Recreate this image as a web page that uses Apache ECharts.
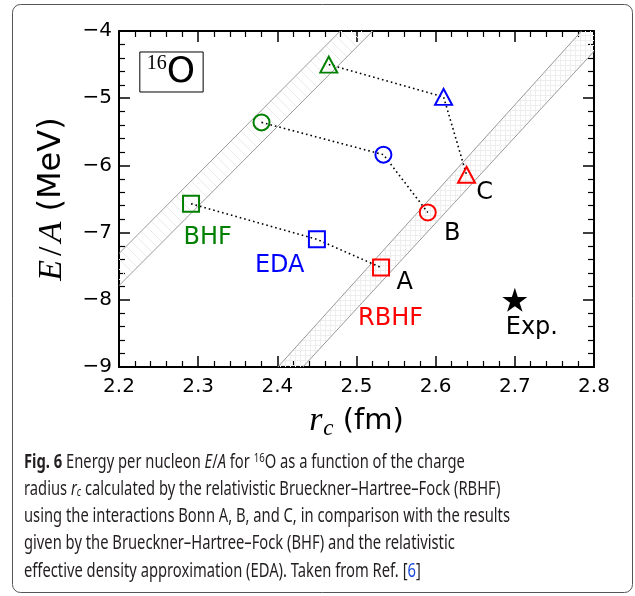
<!DOCTYPE html>
<html>
<head>
<meta charset="utf-8">
<script src="https://cdn.jsdelivr.net/npm/echarts@6/dist/echarts.min.js"></script>
<style>
  html, body { margin: 0; padding: 0; background: #fff; }
  #chart { width: 635px; height: 596px; }
</style>
</head>
<body>
<div id="chart"></div>
<script>
// points are [r_c (fm), E/A (MeV)], ordered Bonn A (square), B (circle), C (triangle)
const markerShapes = ['rect', 'circle', 'triangle'];
const bhf  = [[2.291, -6.57], [2.380, -5.36], [2.465, -4.50]];
const eda  = [[2.450, -7.10], [2.534, -5.84], [2.610, -4.98]];
const rbhf = [[2.531, -7.52], [2.590, -6.70], [2.639, -6.14]];
const expt = [[2.700, -8.00]];

// the two shaded bands, each edge as two points [r_c, E/A]
const bandLeft  = [[[1.973, -10], [2.564, -3]], [[2.013, -10], [2.605, -3]]];
const bandRight = [[[2.324, -10], [2.861, -3]], [[2.354, -10], [2.902, -3]]];

const labelText = ['BHF', 'EDA', 'RBHF', 'A', 'B', 'C', 'Exp.'];
const labelAt   = [[2.312, -7.07], [2.403, -7.49], [2.543, -8.28],
                   [2.561, -7.74], [2.621, -7.02], [2.662, -6.40], [2.7215, -8.41]];
const boxAt = [2.2663, -4.61];

const xRange = [2.2, 2.8, 0.1];
const yRange = [-9, -4, 1];

const colors = { BHF: '#008000', EDA: '#0000ff', RBHF: '#ff0000' };

function hatch(kind) {
  const c = document.createElement('canvas');
  const s = kind === 'diag' ? 10 : 5;
  c.width = c.height = s;
  const g = c.getContext('2d');
  g.strokeStyle = kind === 'diag' ? '#ebebeb' : '#eeeeee';
  g.lineWidth = 1;
  g.beginPath();
  if (kind === 'diag') { g.moveTo(0, 0); g.lineTo(s, s); }
  else { g.moveTo(0, 0.5); g.lineTo(s, 0.5); g.moveTo(0.5, 0); g.lineTo(0.5, s); }
  g.stroke();
  return c;
}
const bands = [bandLeft, bandRight];
const patterns = [hatch('diag'), hatch('cross')];

function starPath() {
  let d = '';
  for (let k = 0; k < 10; k++) {
    const r = k % 2 ? 0.382 : 1;
    const a = Math.PI / 2 + k * Math.PI / 5;
    d += (k ? 'L' : 'M') + (r * Math.cos(a)).toFixed(3) + ' ' + (-r * Math.sin(a)).toFixed(3);
  }
  return 'path://' + d + 'Z';
}

const myChart = echarts.init(document.getElementById('chart'));

const tickFont = { fontSize: 20, fontFamily: 'DejaVu Sans', color: '#000' };
function axisStyle(showLabel) {
  return {
    axisLine: { onZero: false, lineStyle: { color: '#000', width: 2 } },
    axisTick: { inside: true, length: 11, lineStyle: { color: '#000', width: 1.5 } },
    minorTick: { show: true, splitNumber: 5, length: 6, lineStyle: { color: '#000', width: 1.2 } },
    splitLine: { show: false },
    axisLabel: { show: showLabel }
  };
}
const mathStyle = { fontFamily: 'Liberation Serif', fontStyle: 'italic', color: '#000' };

let xAxes = [true, false].map(function (main) {
  const ax = Object.assign({
    type: 'value', min: xRange[0], max: xRange[1], interval: xRange[2],
    position: main ? 'bottom' : 'top'
  }, axisStyle(main));
  if (main) {
    ax.axisLabel = Object.assign({ show: true, margin: 10, formatter: v => v.toFixed(1) }, tickFont);
    ax.name = '{i|r}{s|c} (fm)';
    ax.nameLocation = 'middle';
    ax.nameGap = 36;
    ax.nameTextStyle = {
      fontSize: 29, fontFamily: 'DejaVu Sans', color: '#000',
      rich: {
        i: Object.assign({ fontSize: 34, padding: [0, 1, 0, 0] }, mathStyle),
        s: Object.assign({ fontSize: 23, padding: [14, 0, 0, 0] }, mathStyle)
      }
    };
  }
  return ax;
});

let yAxes = [true, false].map(function (main) {
  const ax = Object.assign({
    type: 'value', min: yRange[0], max: yRange[1], interval: yRange[2],
    position: main ? 'left' : 'right'
  }, axisStyle(main));
  if (main) {
    ax.axisLabel = Object.assign({ show: true, margin: 7, formatter: v => String(v).replace('-', '\u2212') }, tickFont);
    ax.name = '{i|E}{sl|/}{i|A} (MeV)';
    ax.nameLocation = 'middle';
    ax.nameRotate = 90;
    ax.nameGap = 50;
    ax.nameTextStyle = {
      fontSize: 32, fontFamily: 'DejaVu Sans', color: '#000',
      rich: {
        i: Object.assign({ fontSize: 34 }, mathStyle),
        sl: { fontSize: 34, fontFamily: 'Liberation Serif', color: '#000', padding: [0, 4, 0, 4] }
      }
    };
  }
  return ax;
});

const series = [];

series.push({
  type: 'custom', clip: true, silent: true, z: 1,
  data: bands.map((b, i) => [i, 0]),
  renderItem: function (params, api) {
    const b = bands[params.dataIndex];
    const pts = [b[0][0], b[0][1], b[1][1], b[1][0]].map(p => api.coord(p));
    return {
      type: 'polygon',
      shape: { points: pts },
      style: { fill: { image: patterns[params.dataIndex], repeat: 'repeat' }, stroke: '#9a9a9a', lineWidth: 1 }
    };
  }
});

markerShapes.forEach(function (s, i) {
  series.push({
    type: 'line', z: 2, silent: true, symbol: 'none',
    data: [bhf[i], eda[i], rbhf[i]],
    lineStyle: { color: '#000', width: 1.6, type: [1.6, 3] }
  });
});

[['BHF', bhf], ['EDA', eda], ['RBHF', rbhf]].forEach(function (m) {
  series.push({
    type: 'scatter', z: 3, silent: true,
    data: m[1].map((p, i) => ({
      value: p, symbol: markerShapes[i],
      symbolSize: markerShapes[i] === 'triangle' ? [17, 16] : 16
    })),
    itemStyle: { color: 'rgba(0,0,0,0)', borderColor: colors[m[0]], borderWidth: 2, opacity: 1 }
  });
});

series.push({
  type: 'scatter', z: 3, silent: true,
  data: expt, symbol: starPath(), symbolSize: [25, 24],
  itemStyle: { color: '#000', opacity: 1 }
});

series.push({
  type: 'scatter', z: 4, silent: true, symbolSize: 0,
  itemStyle: { color: '#000', opacity: 1 },
  data: labelText.map((t, i) => ({
    value: labelAt[i],
    label: { show: true, position: 'inside', formatter: t, fontSize: 24,
             fontFamily: 'DejaVu Sans', color: colors[t] || '#000', textBorderWidth: 0 }
  })).concat([{
    value: boxAt,
    label: {
      show: true, position: 'inside', formatter: '{sup|16}{o|O}', textBorderWidth: 0,
      borderColor: '#000', borderWidth: 1, padding: [2, 8, 0, 7],
      rich: {
        sup: { fontSize: 20, fontFamily: 'Liberation Serif', color: '#000', verticalAlign: 'top', lineHeight: 38, textBorderWidth: 0 },
        o: { fontSize: 36, fontFamily: 'DejaVu Sans', color: '#000', lineHeight: 38, textBorderWidth: 0 }
      }
    }
  }])
});

// caption below the chart
const captionLines = [
  '{b|Fig. 6} Energy per nucleon {i|E}/{i|A} for {sup|16}O as a function of the charge',
  'radius {i|r}{sub|c} calculated by the relativistic Brueckner\u2013Hartree\u2013Fock (RBHF)',
  'using the interactions Bonn A, B, and C, in comparison with the results',
  'given by the Brueckner\u2013Hartree\u2013Fock (BHF) and the relativistic',
  'effective density approximation (EDA). Taken from Ref. [{link|6}]'
];
const capFont = 'Noto Sans';
const capSize = 20;
const measure = document.createElement('canvas').getContext('2d');
measure.font = capSize + 'px "' + capFont + '"';
const capScale = 486 / measure.measureText(captionLines[2]).width;

const tok = { fontSize: capSize, fontFamily: capFont, fill: '#231f20' };
const capRich = {
  b: Object.assign({}, tok, { fontWeight: 'bold' }),
  i: Object.assign({}, tok, { fontStyle: 'italic' }),
  sup: Object.assign({}, tok, { fontSize: 13, verticalAlign: 'top' }),
  sub: Object.assign({}, tok, { fontSize: 13, fontStyle: 'italic', verticalAlign: 'bottom' }),
  link: Object.assign({}, tok, { fill: '#1a4ad8' })
};

const option = {
  animation: false,
  backgroundColor: '#fff',
  grid: { left: 119, top: 31, right: 41, bottom: 229, containLabel: false },
  xAxis: xAxes,
  yAxis: yAxes,
  series: series,
  graphic: [
    {
      type: 'rect', silent: true,
      shape: { x: 12.5, y: 4.5, width: 620, height: 588, r: 8 },
      style: { fill: 'none', stroke: '#555', lineWidth: 1 }
    }
  ].concat(captionLines.map((t, i) => ({
    type: 'text', silent: true,
    x: 24, y: 462 + i * 27.2, scaleX: capScale, scaleY: 1,
    style: Object.assign({ text: t, verticalAlign: 'middle', align: 'left', rich: capRich }, tok)
  })))
};

myChart.setOption(option);
</script>
</body>
</html>
